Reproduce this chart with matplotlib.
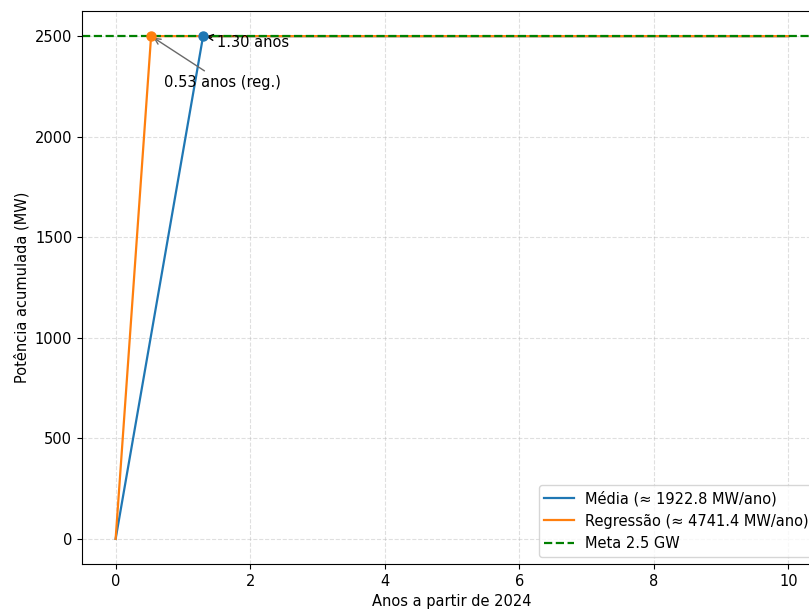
import matplotlib
matplotlib.use('Agg')
import matplotlib.pyplot as plt

# curvas de potencia acumulada (MW) - capadas na meta
media_x = [0, 0.5, 1.0, 1.30, 10]
media_y = [0, 961.4, 1922.8, 2500, 2500]
reg_x = [0, 0.5, 0.527, 10]
reg_y = [0, 2370.7, 2500, 2500]

meta = 2500
t_media = 1.30
t_reg = 0.527

plt.rcParams['font.size'] = 10.5

fig = plt.figure(figsize=(8.09, 6.10), dpi=100)
ax = fig.add_axes([82 / 809, 46 / 610, 740 / 809, 553 / 610])

ax.plot(media_x, media_y, color='tab:blue', linewidth=1.6, label='Média (≈ 1922.8 MW/ano)')
ax.plot(reg_x, reg_y, color='tab:orange', linewidth=1.6, label='Regressão (≈ 4741.4 MW/ano)')
ax.axhline(meta, color='green', linestyle='--', linewidth=1.6, label='Meta 2.5 GW')

ax.scatter([t_media], [meta], color='tab:blue', s=42, zorder=5)
ax.scatter([t_reg], [meta], color='tab:orange', s=42, zorder=5)

ax.annotate(f'{t_media:.2f} anos', xy=(t_media, meta), xytext=(14, -11),
            textcoords='offset pixels', arrowprops=dict(arrowstyle='->'))
ax.annotate(f'{t_reg:.2f} anos (reg.)', xy=(t_reg, meta), xytext=(13, -51),
            textcoords='offset pixels',
            arrowprops=dict(arrowstyle='->', color='dimgray'))

ax.set_xlabel('Anos a partir de 2024')
ax.set_ylabel('Potência acumulada (MW)')
ax.set_xticks([0, 2, 4, 6, 8, 10])
ax.grid(True, linestyle='--', alpha=0.4)
ax.legend(loc='lower right')

fig.savefig('out.png', dpi=100)
